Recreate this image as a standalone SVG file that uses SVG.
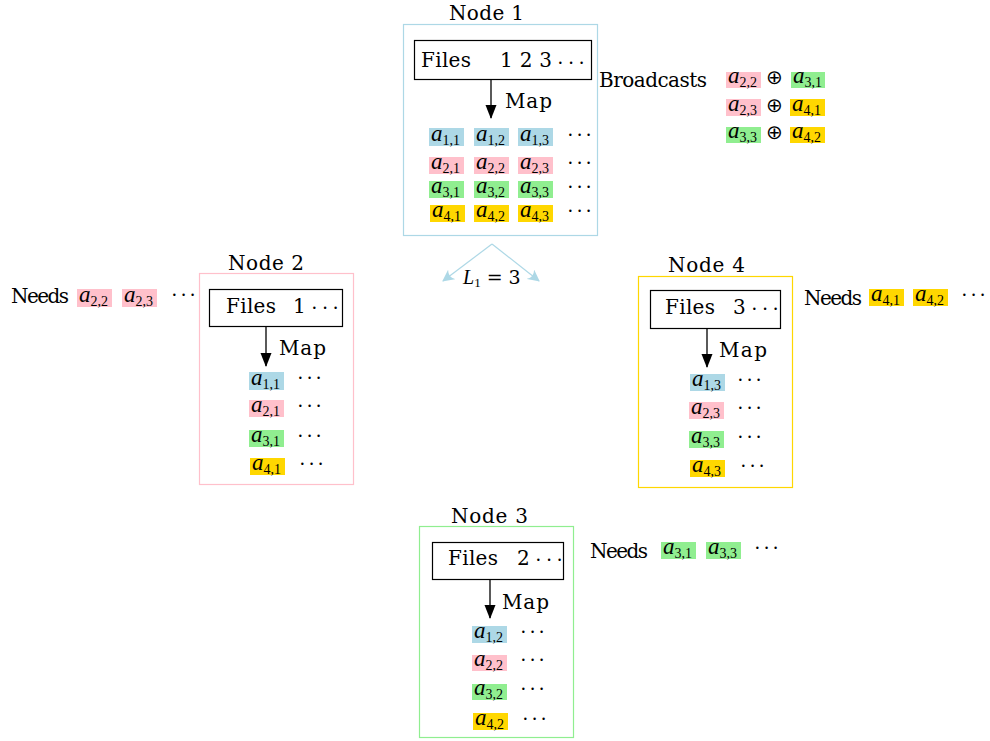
<svg xmlns="http://www.w3.org/2000/svg" width="990" height="741" viewBox="0 0 990 741">
<style>
.t{font-family:"DejaVu Serif",serif;font-size:20px;fill:#000}
.m{font-family:"Liberation Serif",serif;font-style:italic;font-size:23px;fill:#000}
.s{font-style:normal;font-size:14px}
.d{font-family:"Liberation Serif",serif;font-size:20px;fill:#000}
.fb{fill:#fff;stroke:#000;stroke-width:1.2}
.ar{stroke:#000;stroke-width:1.3;fill:none}
.b{fill:#ADD8E6}.p{fill:#FFC0CB}.g{fill:#90EE90}.y{fill:#FFD700}
</style>
<defs>
<marker id="ah" viewBox="0 0 14 12" refX="13" refY="6" markerWidth="14" markerHeight="12" markerUnits="userSpaceOnUse" orient="auto"><path d="M0,0.5 L14,6 L0,11.5 z" fill="#000"/></marker>
<marker id="lb" viewBox="0 0 12 12" refX="11" refY="6" markerWidth="12" markerHeight="12" markerUnits="userSpaceOnUse" orient="auto"><path d="M0,0 Q5,6 0,12 L12,6 z" fill="#ADD8E6"/></marker>
</defs>
<rect width="990" height="741" fill="#fff"/>

<g id="node1">
<rect x="403.5" y="24.5" width="194" height="211" fill="none" stroke="#ADD8E6" stroke-width="1.2"/>
<text class="t" x="449" y="20" textLength="75" lengthAdjust="spacing">Node 1</text>
<rect class="fb" x="414.5" y="40.5" width="177" height="39"/>
<text class="t" x="421" y="67" textLength="50" lengthAdjust="spacing">Files</text>
<text class="t" x="500" y="67" textLength="52" lengthAdjust="spacing">1 2 3</text>
<text class="d" x="557" y="70" textLength="28" lengthAdjust="spacing">· · ·</text>
<line class="ar" x1="491" y1="79" x2="491" y2="118" marker-end="url(#ah)"/>
<text class="t" x="505" y="108" textLength="47" lengthAdjust="spacing">Map</text>
<rect class="b" x="429" y="128" width="35" height="18"/><text class="m" x="431" y="141">a<tspan class="s" dy="4">1,1</tspan></text>
<rect class="b" x="474" y="128" width="35" height="18"/><text class="m" x="476" y="141">a<tspan class="s" dy="4">1,2</tspan></text>
<rect class="b" x="518" y="128" width="35" height="18"/><text class="m" x="520" y="141">a<tspan class="s" dy="4">1,3</tspan></text>
<text class="d" x="567" y="142" textLength="25" lengthAdjust="spacing">· · ·</text>
<rect class="p" x="429" y="157" width="35" height="17"/><text class="m" x="431" y="169">a<tspan class="s" dy="4">2,1</tspan></text>
<rect class="p" x="474" y="157" width="35" height="17"/><text class="m" x="476" y="169">a<tspan class="s" dy="4">2,2</tspan></text>
<rect class="p" x="518" y="157" width="35" height="17"/><text class="m" x="520" y="169">a<tspan class="s" dy="4">2,3</tspan></text>
<text class="d" x="567" y="170" textLength="25" lengthAdjust="spacing">· · ·</text>
<rect class="g" x="429" y="181" width="35" height="17"/><text class="m" x="431" y="193">a<tspan class="s" dy="4">3,1</tspan></text>
<rect class="g" x="474" y="181" width="35" height="17"/><text class="m" x="476" y="193">a<tspan class="s" dy="4">3,2</tspan></text>
<rect class="g" x="518" y="181" width="35" height="17"/><text class="m" x="520" y="193">a<tspan class="s" dy="4">3,3</tspan></text>
<text class="d" x="567" y="194" textLength="25" lengthAdjust="spacing">· · ·</text>
<rect class="y" x="430" y="205" width="35" height="17"/><text class="m" x="432" y="217">a<tspan class="s" dy="4">4,1</tspan></text>
<rect class="y" x="474" y="205" width="35" height="17"/><text class="m" x="476" y="217">a<tspan class="s" dy="4">4,2</tspan></text>
<rect class="y" x="518" y="205" width="35" height="17"/><text class="m" x="520" y="217">a<tspan class="s" dy="4">4,3</tspan></text>
<text class="d" x="567" y="218" textLength="25" lengthAdjust="spacing">· · ·</text>
</g>

<g id="broadcasts">
<text class="t" x="599" y="87" textLength="108" lengthAdjust="spacing">Broadcasts</text>
<rect class="p" x="726" y="72" width="35" height="16"/><text class="m" x="728" y="83">a<tspan class="s" dy="4">2,2</tspan></text>
<text class="d" x="766" y="84">⊕</text>
<rect class="g" x="791" y="72" width="34" height="16"/><text class="m" x="793" y="83">a<tspan class="s" dy="4">3,1</tspan></text>
<rect class="p" x="726" y="99" width="35" height="17"/><text class="m" x="728" y="111">a<tspan class="s" dy="4">2,3</tspan></text>
<text class="d" x="766" y="112">⊕</text>
<rect class="y" x="790" y="99" width="35" height="17"/><text class="m" x="792" y="111">a<tspan class="s" dy="4">4,1</tspan></text>
<rect class="g" x="726" y="127" width="35" height="16"/><text class="m" x="728" y="138">a<tspan class="s" dy="4">3,3</tspan></text>
<text class="d" x="766" y="139">⊕</text>
<rect class="y" x="790" y="127" width="35" height="16"/><text class="m" x="792" y="138">a<tspan class="s" dy="4">4,2</tspan></text>
</g>

<g id="connectors">
<line x1="492" y1="244" x2="443" y2="281" stroke="#ADD8E6" stroke-width="1.2" marker-end="url(#lb)"/>
<line x1="492" y1="244" x2="539" y2="281" stroke="#ADD8E6" stroke-width="1.2" marker-end="url(#lb)"/>
<text class="m" x="463" y="284" style="font-size:20px">L<tspan class="s" dy="3" style="font-size:13px">1</tspan><tspan dy="-3" style="font-style:normal;font-family:'DejaVu Serif',serif;font-size:19px"> = 3</tspan></text>
</g>

<g id="node2">
<rect x="199.5" y="273.5" width="154" height="211" fill="none" stroke="#FFC0CB" stroke-width="1.2"/>
<text class="t" x="228" y="270" textLength="76" lengthAdjust="spacing">Node 2</text>
<rect class="fb" x="209.5" y="289.5" width="133" height="37"/>
<text class="t" x="226" y="313" textLength="50" lengthAdjust="spacing">Files</text>
<text class="t" x="293" y="313">1</text>
<text class="d" x="311" y="315" textLength="28" lengthAdjust="spacing">· · ·</text>
<line class="ar" x1="266" y1="326" x2="266" y2="366" marker-end="url(#ah)"/>
<text class="t" x="279" y="355" textLength="47" lengthAdjust="spacing">Map</text>
<rect class="b" x="249" y="372" width="35" height="18"/><text class="m" x="251" y="385">a<tspan class="s" dy="4">1,1</tspan></text>
<text class="d" x="297" y="385" textLength="25" lengthAdjust="spacing">· · ·</text>
<rect class="p" x="249" y="400" width="35" height="17"/><text class="m" x="251" y="412">a<tspan class="s" dy="4">2,1</tspan></text>
<text class="d" x="297" y="413" textLength="25" lengthAdjust="spacing">· · ·</text>
<rect class="g" x="249" y="430" width="35" height="17"/><text class="m" x="251" y="442">a<tspan class="s" dy="4">3,1</tspan></text>
<text class="d" x="297" y="443" textLength="25" lengthAdjust="spacing">· · ·</text>
<rect class="y" x="250" y="458" width="35" height="17"/><text class="m" x="252" y="470">a<tspan class="s" dy="4">4,1</tspan></text>
<text class="d" x="299" y="471" textLength="25" lengthAdjust="spacing">· · ·</text>
</g>
<g id="needs2">
<text class="t" x="11" y="303" textLength="58" lengthAdjust="spacing">Needs</text>
<rect class="p" x="77" y="289" width="35" height="18"/><text class="m" x="79" y="302">a<tspan class="s" dy="4">2,2</tspan></text>
<rect class="p" x="122" y="289" width="35" height="18"/><text class="m" x="124" y="302">a<tspan class="s" dy="4">2,3</tspan></text>
<text class="d" x="171" y="302" textLength="25" lengthAdjust="spacing">· · ·</text>
</g>

<g id="node4">
<rect x="638.5" y="276.5" width="154" height="211" fill="none" stroke="#FFD700" stroke-width="1.2"/>
<text class="t" x="668" y="272" textLength="77" lengthAdjust="spacing">Node 4</text>
<rect class="fb" x="650.5" y="290.5" width="130" height="38"/>
<text class="t" x="665" y="314" textLength="50" lengthAdjust="spacing">Files</text>
<text class="t" x="733" y="314">3</text>
<text class="d" x="751" y="316" textLength="28" lengthAdjust="spacing">· · ·</text>
<line class="ar" x1="707" y1="329" x2="707" y2="367" marker-end="url(#ah)"/>
<text class="t" x="719" y="357" textLength="48" lengthAdjust="spacing">Map</text>
<rect class="b" x="690" y="374" width="35" height="17"/><text class="m" x="692" y="386">a<tspan class="s" dy="4">1,3</tspan></text>
<text class="d" x="737" y="387" textLength="25" lengthAdjust="spacing">· · ·</text>
<rect class="p" x="689" y="402" width="35" height="17"/><text class="m" x="691" y="414">a<tspan class="s" dy="4">2,3</tspan></text>
<text class="d" x="737" y="415" textLength="25" lengthAdjust="spacing">· · ·</text>
<rect class="g" x="689" y="431" width="35" height="17"/><text class="m" x="691" y="443">a<tspan class="s" dy="4">3,3</tspan></text>
<text class="d" x="737" y="444" textLength="25" lengthAdjust="spacing">· · ·</text>
<rect class="y" x="690" y="460" width="35" height="17"/><text class="m" x="692" y="472">a<tspan class="s" dy="4">4,3</tspan></text>
<text class="d" x="740" y="473" textLength="25" lengthAdjust="spacing">· · ·</text>
</g>
<g id="needs4">
<text class="t" x="804" y="305" textLength="58" lengthAdjust="spacing">Needs</text>
<rect class="y" x="869" y="289" width="35" height="17"/><text class="m" x="871" y="301">a<tspan class="s" dy="4">4,1</tspan></text>
<rect class="y" x="913" y="289" width="35" height="17"/><text class="m" x="915" y="301">a<tspan class="s" dy="4">4,2</tspan></text>
<text class="d" x="961" y="302" textLength="25" lengthAdjust="spacing">· · ·</text>
</g>

<g id="node3">
<rect x="419.5" y="526.5" width="154" height="211" fill="none" stroke="#90EE90" stroke-width="1.2"/>
<text class="t" x="451" y="523" textLength="77" lengthAdjust="spacing">Node 3</text>
<rect class="fb" x="432.5" y="542.5" width="131" height="37"/>
<text class="t" x="448" y="565" textLength="50" lengthAdjust="spacing">Files</text>
<text class="t" x="517" y="565">2</text>
<text class="d" x="535" y="567" textLength="28" lengthAdjust="spacing">· · ·</text>
<line class="ar" x1="490" y1="580" x2="490" y2="618" marker-end="url(#ah)"/>
<text class="t" x="502" y="609" textLength="47" lengthAdjust="spacing">Map</text>
<rect class="b" x="472" y="626" width="35" height="17"/><text class="m" x="474" y="638">a<tspan class="s" dy="4">1,2</tspan></text>
<text class="d" x="520" y="639" textLength="25" lengthAdjust="spacing">· · ·</text>
<rect class="p" x="472" y="655" width="35" height="16"/><text class="m" x="474" y="666">a<tspan class="s" dy="4">2,2</tspan></text>
<text class="d" x="520" y="667" textLength="25" lengthAdjust="spacing">· · ·</text>
<rect class="g" x="472" y="684" width="35" height="16"/><text class="m" x="474" y="695">a<tspan class="s" dy="4">3,2</tspan></text>
<text class="d" x="520" y="696" textLength="25" lengthAdjust="spacing">· · ·</text>
<rect class="y" x="473" y="713" width="35" height="17"/><text class="m" x="475" y="725">a<tspan class="s" dy="4">4,2</tspan></text>
<text class="d" x="522" y="726" textLength="25" lengthAdjust="spacing">· · ·</text>
</g>
<g id="needs3">
<text class="t" x="590" y="558" textLength="58" lengthAdjust="spacing">Needs</text>
<rect class="g" x="661" y="542" width="35" height="17"/><text class="m" x="663" y="554">a<tspan class="s" dy="4">3,1</tspan></text>
<rect class="g" x="706" y="542" width="35" height="17"/><text class="m" x="708" y="554">a<tspan class="s" dy="4">3,3</tspan></text>
<text class="d" x="754" y="555" textLength="25" lengthAdjust="spacing">· · ·</text>
</g>
</svg>
